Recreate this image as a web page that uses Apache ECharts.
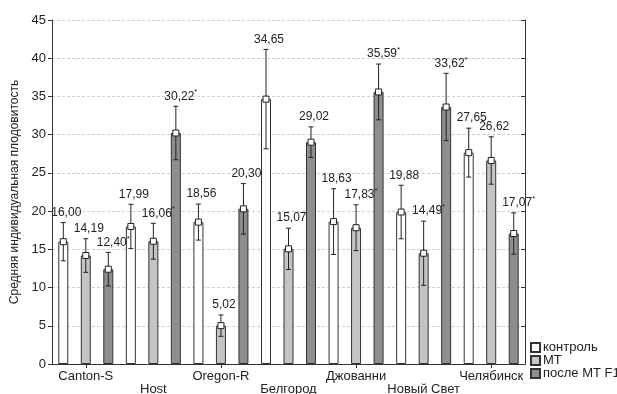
<!DOCTYPE html>
<html>
<head>
<meta charset="utf-8">
<script src="https://cdn.jsdelivr.net/npm/echarts@6/dist/echarts.min.js"></script>
<style>html,body{margin:0;padding:0;background:#fff}#c{width:617px;height:394px}</style>
</head>
<body>
<div id="c"></div>
<script>
const categories = ['Canton-S','Host','Oregon-R','Белгород','Джованни','Новый Свет','Челябинск'];
const seriesNames = ['контроль','МТ','после МТ F1'];
const controlValues = [16.00, 17.99, 18.56, 34.65, 18.63, 19.88, 27.65];
const mtValues      = [14.19, 16.06, 5.02, 15.07, 17.83, 14.49, 26.62];
const f1Values      = [12.40, 30.22, 20.30, 29.02, 35.59, 33.62, 17.07];
const controlErr = [2.5, 2.9, 2.35, 6.5, 4.3, 3.5, 3.2];
const mtErr      = [2.2, 2.35, 1.4, 2.7, 3.0, 4.2, 3.1];
const f1Err      = [2.2, 3.5, 3.3, 2.0, 3.65, 4.4, 2.7];
const controlStar = [false, false, false, false, false, false, false];
const mtStar      = [false, true, false, false, true, true, false];
const f1Star      = [true, true, false, false, true, true, true];
const yTicks = [0,5,10,15,20,25,30,35,40,45];

const values = [controlValues, mtValues, f1Values];
const errs = [controlErr, mtErr, f1Err];
const stars = [controlStar, mtStar, f1Star];
const colors = ['#ffffff', '#c4c4c4', '#8e8e8e'];
const BAR_W = 10, STEP = 22.5;

const fmt = v => v.toFixed(2).replace('.', ',');

const errData = [];
for (let k = 0; k < 3; k++) {
  for (let i = 0; i < categories.length; i++) {
    errData.push([i, values[k][i], errs[k][i], k, stars[k][i] ? 1 : 0]);
  }
}

const chart = echarts.init(document.getElementById('c'), null, {renderer: 'canvas'});
const font = '"Liberation Sans", Arial, sans-serif';

const barSeries = seriesNames.map((n, k) => ({
  name: n,
  type: 'bar',
  barWidth: BAR_W,
  barGap: '125%',
  data: values[k],
  itemStyle: {color: colors[k], borderColor: '#333', borderWidth: 1},
  emphasis: {disabled: true},
  z: 2
}));

option = {
  animation: false,
  backgroundColor: '#fff',
  textStyle: {fontFamily: font},
  grid: {left: 52, right: 92, top: 20, bottom: 30, outerBoundsMode: 'none', containLabel: false},
  legend: {
    orient: 'vertical', left: 530, top: 341, padding: 0,
    itemWidth: 9, itemHeight: 9, itemGap: 0,
    icon: 'rect',
    textStyle: {fontSize: 13, lineHeight: 13, color: '#222', fontFamily: font, padding: [0,0,0,-2]},
    data: seriesNames
  },
  xAxis: [{
    type: 'category', data: categories, boundaryGap: true,
    axisLine: {lineStyle: {color: '#333', width: 1}},
    axisTick: {show: true, inside: true, alignWithLabel: true, length: 4, lineStyle: {color: '#333'}},
    axisLabel: {
      interval: 0, color: '#222', fontSize: 13, fontFamily: font, margin: 6, lineHeight: 13,
      formatter: (v, i) => (i % 2 === 1 ? '\n' + v : v)
    },
    splitLine: {show: false}
  }, {
    type: 'category', data: categories, position: 'top', boundaryGap: true,
    axisLine: {lineStyle: {color: '#333', width: 1}},
    axisTick: {show: true, inside: true, alignWithLabel: true, length: 4, lineStyle: {color: '#333'}},
    axisLabel: {show: false}
  }],
  yAxis: [{
    type: 'value', min: 0, max: 45, interval: 5,
    name: 'Средняя индивидуальная плодовитость',
    nameLocation: 'middle', nameGap: 27, nameRotate: 90,
    nameTextStyle: {fontSize: 12, color: '#222', fontFamily: font},
    axisLine: {show: true, lineStyle: {color: '#333', width: 1}},
    axisTick: {show: true, inside: false, length: 4, lineStyle: {color: '#333'}},
    axisLabel: {color: '#222', fontSize: 13, fontFamily: font, margin: 6,
      formatter: v => (yTicks.indexOf(v) >= 0 ? String(v) : '')},
    splitLine: {show: true, lineStyle: {color: '#cfcfcf', type: [3, 2], width: 1}}
  }, {
    type: 'value', min: 0, max: 45, interval: 5, position: 'right',
    axisLine: {show: true, lineStyle: {color: '#333', width: 1}},
    axisTick: {show: true, inside: true, length: 4, lineStyle: {color: '#333'}},
    axisLabel: {show: false},
    splitLine: {show: false}
  }],
  series: barSeries.concat([{
    type: 'custom',
    xAxisIndex: 0, yAxisIndex: 0,
    data: errData,
    z: 5,
    silent: true,
    renderItem: function (params, api) {
      const ci = api.value(0), v = api.value(1), e = api.value(2), k = api.value(3), st = api.value(4);
      const c = api.coord([ci, v]);
      const x = c[0] + (k - 1) * STEP;
      const yTop = api.coord([ci, v + e])[1];
      const yBot = api.coord([ci, v - e])[1];
      const y = c[1];
      const cap = 2.5;
      const ls = {stroke: '#222', lineWidth: 1};
      const txt = fmt(v) + (st ? '{s|*}' : '');
      return {
        type: 'group',
        children: [
          {type: 'line', shape: {x1: x, y1: yTop, x2: x, y2: yBot}, style: ls},
          {type: 'line', shape: {x1: x - cap, y1: yTop, x2: x + cap, y2: yTop}, style: ls},
          {type: 'line', shape: {x1: x - cap, y1: yBot, x2: x + cap, y2: yBot}, style: ls},
          {type: 'rect', shape: {x: x - 3, y: y - 3, width: 6, height: 6},
            style: {fill: '#fff', stroke: '#222', lineWidth: 1}},
          {type: 'text', x: x + 3 + (st ? 2 : 0), y: yTop - 10,
            style: {text: txt, fill: '#222', font: '12px ' + font, align: 'center', verticalAlign: 'middle',
              rich: {s: {fontSize: 8, fill: '#222', fontFamily: font, padding: [0, 0, 8, 0]}}}}
        ]
      };
    }
  }])
};
chart.setOption(option);
</script>
</body>
</html>
